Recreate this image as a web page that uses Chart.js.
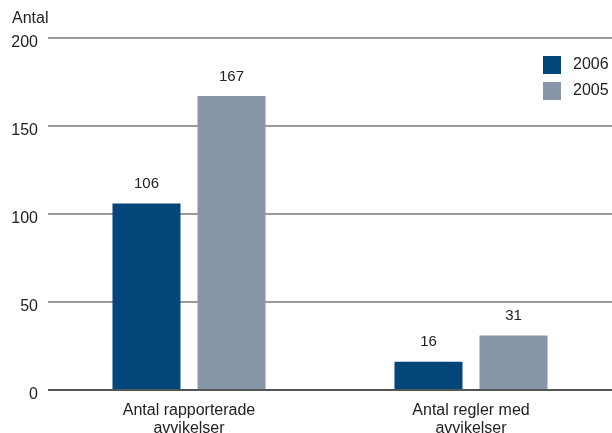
<!DOCTYPE html>
<html>
<head>
<meta charset="utf-8">
<script src="https://cdn.jsdelivr.net/npm/chart.js@4"></script>
<style>
  html, body { margin: 0; padding: 0; background: #fff; }
  #wrap { width: 612px; height: 433px; }
</style>
</head>
<body>
<div id="wrap"><canvas id="chart" width="612" height="433"></canvas></div>
<script>
const categories = [['Antal rapporterade', 'avvikelser'], ['Antal regler med', 'avvikelser']];
const seriesNames = ['2006', '2005'];
const values2006 = [106, 16];
const values2005 = [167, 31];
const yTicks = [0, 50, 100, 150, 200];
const yTitle = 'Antal';

const colors = ['#02467a', '#8796a8'];
const fontFamily = '"Liberation Sans", Arial, sans-serif';
const textColor = '#222';

document.addEventListener('DOMContentLoaded', function() {
    showChart();
});

// value labels above bars, axis title and legend box in the corner
const extras = {
    id: 'extras',
    afterDatasetsDraw(chart) {
        const ctx = chart.ctx;
        ctx.save();
        ctx.fillStyle = textColor;
        ctx.font = '15px ' + fontFamily;
        ctx.textAlign = 'center';
        ctx.textBaseline = 'bottom';
        chart.data.datasets.forEach(function(ds, i) {
            chart.getDatasetMeta(i).data.forEach(function(bar, j) {
                ctx.fillText(String(ds.data[j]), bar.x, bar.y - 12);
            });
        });

        ctx.font = '16px ' + fontFamily;
        ctx.textAlign = 'left';
        ctx.textBaseline = 'middle';
        ctx.fillText(yTitle, 12, 19);

        chart.data.datasets.forEach(function(ds, i) {
            const y = 56 + i * 26;
            ctx.fillStyle = ds.backgroundColor;
            ctx.fillRect(543, y, 18, 18);
            ctx.fillStyle = textColor;
            ctx.fillText(ds.label, 573, y + 9);
        });
        ctx.restore();
    }
};

function showChart() {
    const canvasChart = document.getElementById('chart')?.getContext('2d');
    if (!canvasChart) return;
    new Chart(canvasChart, {
        type: 'bar',
        data: {
            labels: categories,
            datasets: [
                { label: seriesNames[0], data: values2006, backgroundColor: colors[0] },
                { label: seriesNames[1], data: values2005, backgroundColor: colors[1] }
            ]
        },
        options: {
            responsive: false,
            animation: false,
            layout: { padding: { top: 38, right: 0, left: 0, bottom: 0 } },
            categoryPercentage: 0.603,
            barPercentage: 0.8,
            plugins: {
                legend: { display: false },
                tooltip: { enabled: false }
            },
            scales: {
                x: {
                    grid: { display: false, drawTicks: false },
                    border: { display: false },
                    ticks: {
                        color: textColor,
                        font: { family: fontFamily, size: 16, lineHeight: 1.15 },
                        padding: 11,
                        maxRotation: 0
                    },
                    afterFit(scale) { scale.height = 43; }
                },
                y: {
                    min: 0,
                    max: 200,
                    afterBuildTicks(scale) {
                        scale.ticks = yTicks.map(v => ({ value: v }));
                    },
                    grid: {
                        drawTicks: false,
                        color: ctx => ctx.tick && ctx.tick.value === 0 ? '#555' : '#9a9a9a',
                        lineWidth: 2
                    },
                    border: { display: false },
                    ticks: {
                        color: textColor,
                        font: { family: fontFamily, size: 16 },
                        padding: 10,
                        labelOffset: 5
                    },
                    afterFit(scale) { scale.width = 48; }
                }
            }
        },
        plugins: [extras]
    });
}
</script>
</body>
</html>
